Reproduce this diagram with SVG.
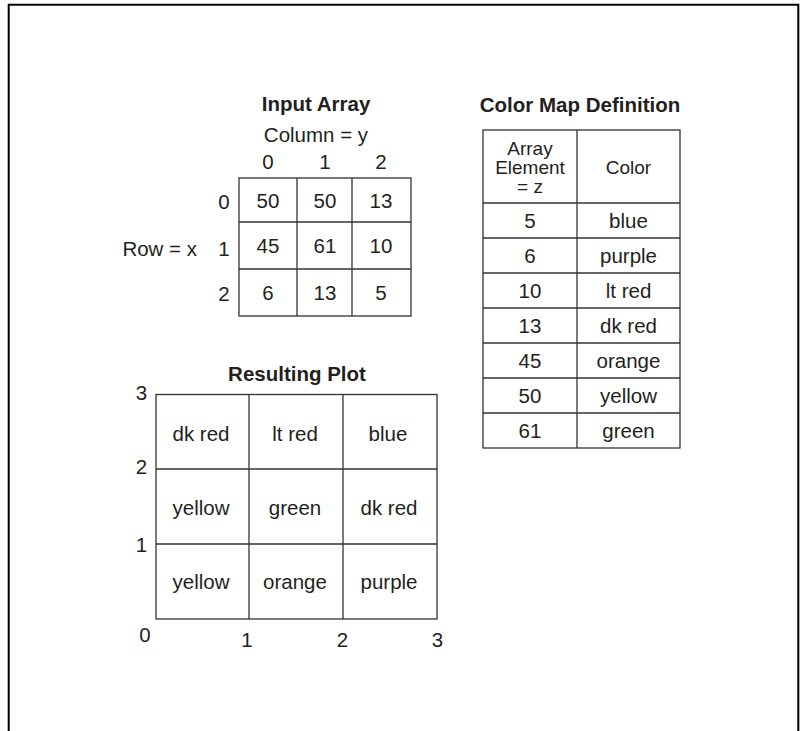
<svg xmlns="http://www.w3.org/2000/svg" width="800" height="731" viewBox="0 0 800 731">
<style>
  text { font-family: "Liberation Sans", Arial, sans-serif; font-size: 20.5px; fill: #231f20; text-anchor: middle; }
  .b { font-weight: bold; }
  .hdr { font-size: 19px; }
  .grid { fill: none; stroke: #333; stroke-width: 1.3; }
  .frame { fill: none; stroke: #000; stroke-width: 2; }
</style>
<rect x="0" y="0" width="800" height="731" fill="#fff"/>
<path class="frame" d="M8.7,731 V4.7 H798.3 V731"/>

<g id="input-array">
  <text class="b" x="316" y="111">Input Array</text>
  <text x="316" y="142">Column = y</text>
  <text x="268" y="169">0</text>
  <text x="325" y="169">1</text>
  <text x="381" y="169">2</text>
  <text x="224" y="209">0</text>
  <text x="224" y="256">1</text>
  <text x="224" y="301">2</text>
  <text x="197" y="256" style="text-anchor:end">Row = x</text>
  <g class="grid">
    <rect x="239" y="178" width="172" height="138"/>
    <line x1="297" y1="178" x2="297" y2="316"/>
    <line x1="352" y1="178" x2="352" y2="316"/>
    <line x1="239" y1="222" x2="411" y2="222"/>
    <line x1="239" y1="269" x2="411" y2="269"/>
  </g>
  <text x="268" y="208">50</text>
  <text x="325" y="208">50</text>
  <text x="381" y="208">13</text>
  <text x="268" y="253">45</text>
  <text x="325" y="253">61</text>
  <text x="381" y="253">10</text>
  <text x="268" y="300">6</text>
  <text x="325" y="300">13</text>
  <text x="381" y="300">5</text>
</g>

<g id="color-map">
  <text class="b" x="580" y="112">Color Map Definition</text>
  <g class="grid">
    <rect x="483" y="130" width="197" height="318"/>
    <line x1="577" y1="130" x2="577" y2="448"/>
    <line x1="483" y1="203" x2="680" y2="203"/>
    <line x1="483" y1="238" x2="680" y2="238"/>
    <line x1="483" y1="273" x2="680" y2="273"/>
    <line x1="483" y1="308" x2="680" y2="308"/>
    <line x1="483" y1="343" x2="680" y2="343"/>
    <line x1="483" y1="378" x2="680" y2="378"/>
    <line x1="483" y1="413" x2="680" y2="413"/>
  </g>
  <text class="hdr" x="530" y="155">Array</text>
  <text class="hdr" x="530" y="174">Element</text>
  <text class="hdr" x="530" y="193">= z</text>
  <text class="hdr" x="628.5" y="174">Color</text>
  <text x="530" y="228">5</text><text x="628.5" y="228">blue</text>
  <text x="530" y="263">6</text><text x="628.5" y="263">purple</text>
  <text x="530" y="298">10</text><text x="628.5" y="298">lt red</text>
  <text x="530" y="333">13</text><text x="628.5" y="333">dk red</text>
  <text x="530" y="368">45</text><text x="628.5" y="368">orange</text>
  <text x="530" y="403">50</text><text x="628.5" y="403">yellow</text>
  <text x="530" y="438">61</text><text x="628.5" y="438">green</text>
</g>

<g id="resulting-plot">
  <text class="b" x="297" y="381">Resulting Plot</text>
  <g class="grid">
    <rect x="156" y="394.5" width="281" height="224.5"/>
    <line x1="249" y1="394.5" x2="249" y2="619"/>
    <line x1="343" y1="394.5" x2="343" y2="619"/>
    <line x1="156" y1="469" x2="437" y2="469"/>
    <line x1="156" y1="544" x2="437" y2="544"/>
  </g>
  <text x="141.5" y="400">3</text>
  <text x="141.5" y="474">2</text>
  <text x="141.5" y="552">1</text>
  <text x="145" y="642">0</text>
  <text x="247" y="647">1</text>
  <text x="342.5" y="647">2</text>
  <text x="437.5" y="647">3</text>
  <text x="201" y="441">dk red</text>
  <text x="295" y="441">lt red</text>
  <text x="388" y="441">blue</text>
  <text x="201" y="515">yellow</text>
  <text x="295" y="515">green</text>
  <text x="389" y="515">dk red</text>
  <text x="201" y="589">yellow</text>
  <text x="295" y="589">orange</text>
  <text x="389" y="589">purple</text>
</g>
</svg>
